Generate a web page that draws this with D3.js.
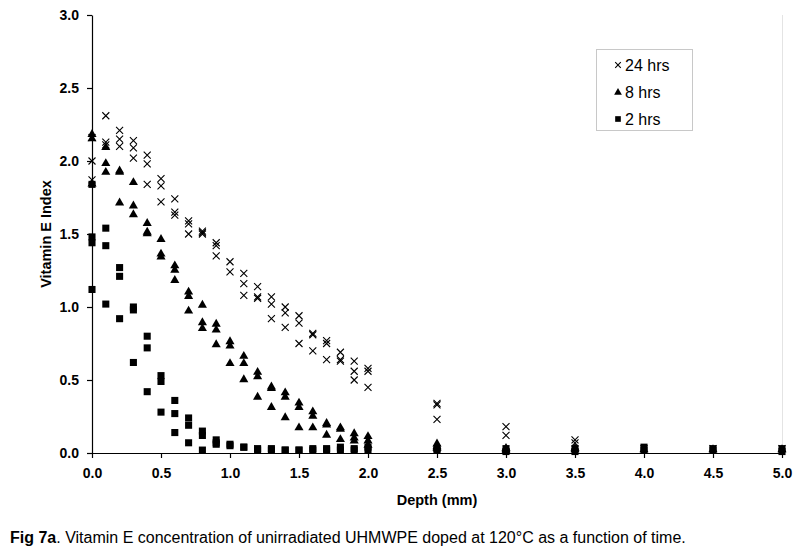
<!DOCTYPE html>
<html>
<head>
<meta charset="utf-8">
<script src="https://cdn.jsdelivr.net/npm/d3@7"></script>
<style>
  html, body { margin: 0; padding: 0; background: #fff; }
  svg text { font-family: Arial, "Liberation Sans", sans-serif; }
</style>
</head>
<body>
<svg id="chart" width="800" height="549"></svg>
<script>
// ---- Data ----
const depths = [0, 0.1, 0.2, 0.3, 0.4, 0.5, 0.6, 0.7, 0.8, 0.9, 1.0, 1.1, 1.2, 1.3, 1.4, 1.5, 1.6, 1.7, 1.8, 1.9, 2.0, 2.5, 3.0, 3.5, 4.0, 4.5, 5.0];

const hrs24 = [
  [2.16, 2.00, 1.87], [2.31, 2.13, 2.11], [2.21, 2.15, 2.10], [2.14, 2.09, 2.02],
  [2.04, 1.98, 1.84], [1.88, 1.83, 1.72], [1.74, 1.65, 1.63], [1.59, 1.57, 1.50],
  [1.52, 1.51, 1.50], [1.44, 1.42, 1.35], [1.31, 1.24], [1.23, 1.16, 1.08],
  [1.14, 1.07, 1.06], [1.07, 1.02, 0.92], [1.00, 0.96, 0.86], [0.94, 0.89, 0.75],
  [0.82, 0.81, 0.70], [0.77, 0.75, 0.64], [0.69, 0.64, 0.63], [0.63, 0.56, 0.50],
  [0.58, 0.56, 0.45], [0.34, 0.33, 0.23], [0.18, 0.12], [0.09, 0.07],
  [0.03], [0.03], [0.03]
];

const hrs8 = [
  [2.19, 2.16, 1.85], [2.10, 1.99, 1.93], [1.94, 1.93, 1.72], [1.86, 1.70, 1.64],
  [1.58, 1.52, 1.51], [1.47, 1.37, 1.35], [1.29, 1.26, 1.19], [1.11, 1.08, 0.98],
  [1.02, 0.90, 0.86], [0.89, 0.85, 0.75], [0.77, 0.74, 0.62], [0.67, 0.62, 0.51],
  [0.56, 0.53, 0.39], [0.46, 0.45, 0.32], [0.42, 0.39, 0.25], [0.35, 0.32, 0.18],
  [0.29, 0.26, 0.18], [0.21, 0.20, 0.13], [0.18, 0.17, 0.10], [0.14, 0.11, 0.09],
  [0.12, 0.09, 0.06], [0.07, 0.05, 0.04], [0.04, 0.03, 0.02], [0.04, 0.03],
  [0.03], [0.03], [0.03]
];

const hrs2 = [
  [1.84, 1.48, 1.44, 1.12], [1.54, 1.42, 1.02], [1.27, 1.21, 0.92], [1.00, 0.98, 0.62],
  [0.80, 0.72, 0.42], [0.53, 0.49, 0.28], [0.36, 0.27, 0.14], [0.24, 0.19, 0.07],
  [0.15, 0.12, 0.02], [0.09, 0.07, 0.06], [0.06, 0.05], [0.04, 0.04],
  [0.03, 0.02], [0.03, 0.02], [0.02, 0.02], [0.02, 0.02],
  [0.03, 0.02], [0.03, 0.02], [0.04, 0.02], [0.03, 0.02],
  [0.04, 0.02], [0.03, 0.02], [0.03, 0.01], [0.03, 0.01],
  [0.04, 0.02], [0.03, 0.02], [0.03, 0.01]
];

const seriesNames = ["24 hrs", "8 hrs", "2 hrs"];
const xTicks = [0, 0.5, 1.0, 1.5, 2.0, 2.5, 3.0, 3.5, 4.0, 4.5, 5.0];
const yTicks = [0, 0.5, 1.0, 1.5, 2.0, 2.5, 3.0];
const xTitle = "Depth (mm)";
const yTitle = "Vitamin E Index";
const captionBold = "Fig 7a";
const captionRest = ". Vitamin E concentration of unirradiated UHMWPE doped at 120\u00B0C as a function of time.";

// ---- Layout ----
const svg = d3.select("#chart");
const plot = { left: 92, right: 782, top: 15, bottom: 453 };

const x = d3.scaleLinear().domain([0, 5]).range([plot.left, plot.right]);
const y = d3.scaleLinear().domain([0, 3]).range([plot.bottom, plot.top]);

// faint plot-area right edge
svg.append("line")
  .attr("x1", plot.right + 0.5).attr("x2", plot.right + 0.5)
  .attr("y1", plot.top).attr("y2", plot.bottom)
  .attr("stroke", "#e4e4e4").attr("stroke-width", 1);

// axes
const xAxis = d3.axisBottom(x).tickValues(xTicks).tickFormat(d3.format(".1f")).tickSize(5).tickSizeOuter(0);
const yAxis = d3.axisLeft(y).tickValues(yTicks).tickFormat(d3.format(".1f")).tickSize(5).tickSizeOuter(0);

const gx = svg.append("g").attr("transform", `translate(0,${plot.bottom})`).call(xAxis);
const gy = svg.append("g").attr("transform", `translate(${plot.left},0)`).call(yAxis);

[gx, gy].forEach(g => {
  g.select(".domain").attr("stroke", "#000").attr("stroke-width", 1.2);
  g.selectAll(".tick line").attr("stroke", "#000").attr("stroke-width", 1.2);
  g.selectAll(".tick text")
    .attr("fill", "#000")
    .style("font-family", "Arial, 'Liberation Sans', sans-serif")
    .style("font-size", "14px")
    .style("font-weight", "bold");
});
gx.selectAll(".tick text").attr("dy", "0").attr("y", 25);
gy.selectAll(".tick text").attr("x", -13);

// axis titles
svg.append("text")
  .attr("x", (plot.left + plot.right) / 2).attr("y", 505)
  .attr("text-anchor", "middle")
  .style("font-size", "14.5px").style("font-weight", "bold")
  .text(xTitle);

svg.append("text")
  .attr("transform", `translate(51,${(plot.top + plot.bottom) / 2}) rotate(-90)`)
  .attr("text-anchor", "middle")
  .style("font-size", "14.5px").style("font-weight", "bold")
  .text(yTitle);

// flatten data
function flatten(arr) {
  const out = [];
  arr.forEach((vals, i) => vals.forEach(v => out.push({ d: depths[i], v })));
  return out;
}

const sq = d3.symbol().type(d3.symbolSquare).size(50);
const tri = d3.symbol().type(d3.symbolTriangle).size(36);

// 2 hrs squares
svg.append("g").selectAll("path").data(flatten(hrs2)).join("path")
  .attr("d", sq)
  .attr("transform", p => `translate(${x(p.d)},${y(p.v)})`)
  .attr("fill", "#000");

// 8 hrs triangles
svg.append("g").selectAll("path").data(flatten(hrs8)).join("path")
  .attr("d", tri)
  .attr("transform", p => `translate(${x(p.d)},${y(p.v) + 1})`)
  .attr("fill", "#000");

// 24 hrs crosses
const crossPath = "M-3.5,-3.5L3.5,3.5M-3.5,3.5L3.5,-3.5";
svg.append("g").selectAll("path").data(flatten(hrs24)).join("path")
  .attr("d", crossPath)
  .attr("transform", p => `translate(${x(p.d)},${y(p.v)})`)
  .attr("stroke", "#000").attr("stroke-width", 1.1).attr("fill", "none");

// legend
const lg = svg.append("g");
lg.append("rect")
  .attr("x", 596.5).attr("y", 49.5).attr("width", 96).attr("height", 81)
  .attr("fill", "#fff").attr("stroke", "#c8c8c8").attr("stroke-width", 1);

const legendY = [65, 92, 119];
const legendMarkerX = 618;
lg.append("path").attr("d", "M-2.8,-2.8L2.8,2.8M-2.8,2.8L2.8,-2.8")
  .attr("transform", `translate(${legendMarkerX},${legendY[0]})`)
  .attr("stroke", "#000").attr("stroke-width", 1.1);
lg.append("path").attr("d", d3.symbol().type(d3.symbolTriangle).size(26))
  .attr("transform", `translate(${legendMarkerX},${legendY[1] + 0.5})`).attr("fill", "#000");
lg.append("path").attr("d", d3.symbol().type(d3.symbolSquare).size(32))
  .attr("transform", `translate(${legendMarkerX},${legendY[2]})`).attr("fill", "#000");

seriesNames.forEach((name, i) => {
  lg.append("text")
    .attr("x", 625).attr("y", legendY[i] + 6)
    .style("font-size", "16px")
    .text(name);
});

// caption
const cap = svg.append("text").attr("x", 10).attr("y", 543).style("font-size", "16px");
cap.append("tspan").style("font-weight", "bold").text(captionBold);
cap.append("tspan").text(captionRest);
</script>
</body>
</html>
